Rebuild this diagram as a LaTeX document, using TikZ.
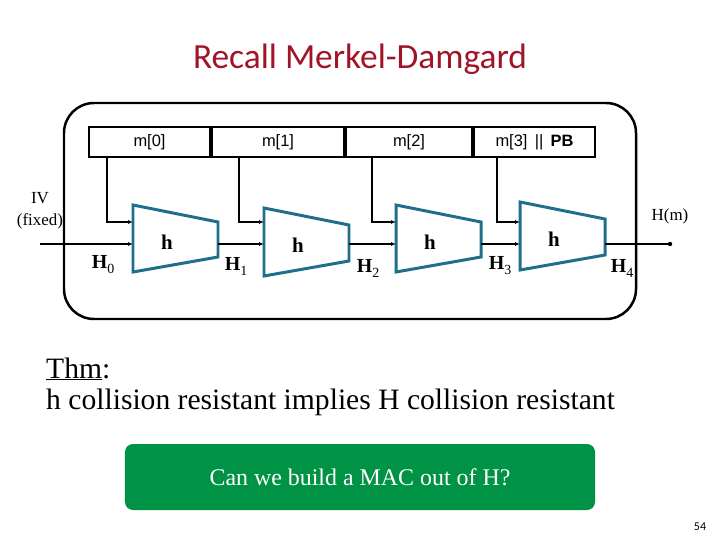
\documentclass[tikz,border=0pt]{standalone}
\usepackage{fontspec}
\setmainfont{Liberation Serif}
\newfontfamily\titlefont{Carlito}
\newfontfamily\blockfont{Liberation Sans}
\usetikzlibrary{arrows.meta, calc, positioning}
\definecolor{titlered}{RGB}{160,20,40}
\definecolor{hblue}{RGB}{31,110,140}
\definecolor{askgreen}{RGB}{0,146,69}
\newcommand{\hsub}[1]{\textbf{H}\raisebox{-5bp}{\fontsize{14}{14}\selectfont #1}}

\begin{document}
\begin{tikzpicture}[x=1bp, y=-1bp,
  >={Latex[length=5bp,width=4bp]},
  block/.style={draw, line width=2pt, minimum height=30bp, inner sep=0pt,
    font=\blockfont\fontsize{16.5}{18}\selectfont},
  hbox/.style={draw=hblue, line width=3pt, line join=miter},
  hlabel/.style={font=\fontsize{21}{21}\selectfont\bfseries},
  wire/.style={line width=1.2pt},
  chainlab/.style={font=\fontsize{20}{20}\selectfont},
  serif/.style={font=\fontsize{17}{22}\selectfont, align=center}]
\useasboundingbox (0,0) rectangle (720,540);

% Title
\node[font=\titlefont\fontsize{35.5}{38}\selectfont, text=titlered] (title) at (360,59) {Recall Merkel-Damgard};

% Frame
\draw[line width=2.5pt, rounded corners=30bp] (64,103) rectangle (636,319);

% Message blocks
\node[block, minimum width=121bp, anchor=north west] (m0) at (88,126) {m[0]};
\node[block, minimum width=132bp, right=0pt of m0] (m1) {m[1]};
\node[block, minimum width=126bp, right=0pt of m1] (m2) {m[2]};
\node[block, minimum width=121bp, right=0pt of m2] (m3) {m[3] \,||\, \textbf{PB}};

% Compression functions
\foreach \i/\lx/\ty/\by in {1/133/205/272, 2/264/208/276, 3/396/205/272, 4/520/202/270}{
  \draw[hbox] (\lx,\ty) -- (\lx+85,\ty+17) -- (\lx+85,\by-15) -- (\lx,\by) -- cycle;
  \node[hlabel] (h\i) at (\lx+34,\ty+37) {h};
  \coordinate (k\i) at (\lx,222);
  \coordinate (in\i) at (\lx,244);
  \coordinate (out\i) at (\lx+85,244);
}

% Message taps
\foreach \i/\tx in {1/107, 2/239, 3/372, 4/497}{
  \coordinate (t\i) at (\tx,156);
  \draw[wire,->] (t\i) |- (k\i);
}

% Chaining values
\coordinate (iv) at (40,244);
\draw[wire,->] (iv) -- (in1);
\foreach \i/\j in {1/2, 2/3, 3/4}
  \draw[wire,->] (out\i) -- (in\j);
\coordinate (hm) at (670,244);
\draw[wire] (out4) -- (hm);
\fill (hm) circle (2.2bp);

\node[serif] (ivlabel) at (40,211) {IV\\(fixed)};
\node[serif] (hmlabel) at (670,216) {H(m)};
\node[chainlab] (lab0) at (103,265) {\hsub{0}};
\node[chainlab] (lab1) at (236,266) {\hsub{1}};
\node[chainlab] (lab2) at (368,268) {\hsub{2}};
\node[chainlab] (lab3) at (500,266) {\hsub{3}};
\node[chainlab] (lab4) at (622,268) {\hsub{4}};

% Theorem
\node[anchor=west, font=\fontsize{29.7}{31}\selectfont, inner sep=0pt] (thm) at (46,369) {\underline{Thm}:};
\node[anchor=west, font=\fontsize{29.7}{31}\selectfont, inner sep=0pt] (claim) at (46,402) {h collision resistant implies H collision resistant};

% Question
\node[fill=askgreen, rounded corners=8bp, minimum width=470bp, minimum height=66bp,
  text=white, font=\fontsize{24}{26}\selectfont] (ask) at (360,477) {Can we build a MAC out of H?};

\node[font=\titlefont\fontsize{12}{13}\selectfont] (page) at (700,527) {54};
\end{tikzpicture}
\end{document}
